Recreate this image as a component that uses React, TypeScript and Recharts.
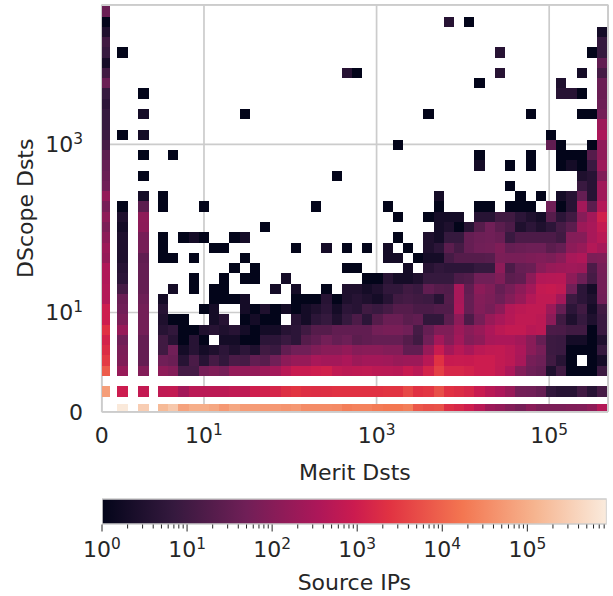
import { ScatterChart, Scatter, BarChart, Bar, XAxis, YAxis, CartesianGrid, ReferenceLine } from 'recharts'

// source IP counts per bin, one row per DScope bin (top to bottom), 47 Merit bins per row
const _ = 0
const t00 = [40,_,_, _,_,_,_,_,_,_,_,_,_, _,_,_,_,_,_,_,_,_,_, _,_,_,_,_,_,_,_,_,_, _,_,_,_,_,_,_,_,_,_,_,_,_,_]
const t01 = [1,_,_, _,_,_,_,_,_,_,_,_,_, _,_,_,_,_,_,_,_,_,_, _,_,_,_,_,_,_,_,4,_, 1,_,_,_,_,_,_,_,_,_,_,_,_,_]
const t02 = [3,_,_, _,_,_,_,_,_,_,_,_,_, _,_,_,_,_,_,_,_,_,_, _,_,_,_,_,_,_,_,_,_, _,_,_,_,_,_,_,_,_,_,_,_,_,2]
const t03 = [10,_,_, _,_,_,_,_,_,_,_,_,_, _,_,_,_,_,_,_,_,_,_, _,_,_,_,_,_,_,_,_,_, _,_,_,_,_,_,_,_,_,_,_,_,_,7]
const t04 = [7,1,_, _,_,_,_,_,_,_,_,_,_, _,_,_,_,_,_,_,_,_,_, _,_,_,_,_,_,_,_,_,_, _,_,_,4,_,_,_,_,_,_,_,_,1,7]
const t05 = [2,_,_, _,_,_,_,_,_,_,_,_,_, _,_,_,_,_,_,_,_,_,_, _,_,_,_,_,_,_,_,_,_, _,_,_,_,_,_,_,_,_,_,_,_,_,30]
const t06 = [10,_,_, _,_,_,_,_,_,_,_,_,_, _,_,_,_,_,_,_,_,4,1, _,_,_,_,_,_,_,_,_,_, _,_,_,4,_,_,_,_,_,_,_,2,_,12]
const t07 = [40,_,_, _,_,_,_,_,_,_,_,_,_, _,_,_,_,_,_,_,_,_,_, _,_,_,_,_,_,_,_,_,_, _,1,_,_,_,_,_,_,_,3,_,_,_,40]
const t08 = [7,_,1, _,_,_,_,_,_,_,_,_,_, _,_,_,_,_,_,_,_,_,_, _,_,_,_,_,_,_,_,_,_, _,_,_,_,_,_,_,_,_,4,4,1,_,40]
const t09 = [5,_,_, _,_,_,_,_,_,_,_,_,_, _,_,_,_,_,_,_,_,_,_, _,_,_,_,_,_,_,_,_,_, _,_,_,_,_,_,_,_,_,_,_,_,_,45]
const t10 = [7,_,2, _,_,_,_,_,_,_,_,1,_, _,_,_,_,_,_,_,_,_,_, _,_,_,_,_,_,1,_,_,_, _,_,_,_,_,_,1,_,_,_,_,1,1,55]
const t11 = [7,_,_, _,_,_,_,_,_,_,_,_,_, _,_,_,_,_,_,_,_,_,_, _,_,_,_,_,_,_,_,_,_, _,_,_,_,_,_,_,_,_,_,_,_,_,200]
const t12 = [8,1,2, _,_,_,_,_,_,_,_,_,_, _,_,_,_,_,_,_,_,_,_, _,_,_,_,_,_,_,_,_,_, _,_,_,_,_,_,_,_,1,_,_,_,_,340]
const t13 = [12,_,_, _,_,_,_,_,_,_,_,_,_, _,_,_,_,_,_,_,_,_,_, _,_,_,1,_,_,_,_,_,_, _,_,_,_,_,_,_,_,30,1,_,_,1,130]
const t14 = [25,_,1, _,1,_,_,_,_,_,_,_,_, _,_,_,_,_,_,_,_,_,_, _,_,_,_,_,_,_,_,_,_, _,1,_,_,_,_,1,_,_,1,1,1,20,130]
const t15 = [35,_,_, _,_,_,_,_,_,_,_,_,_, _,_,_,_,_,_,_,_,_,_, _,_,_,_,_,_,_,_,_,_, _,2,_,_,1,_,1,_,_,1,2,1,8,200]
const t16 = [40,_,1, _,_,_,_,_,_,_,_,_,_, _,_,_,_,_,_,_,1,_,_, _,_,_,_,_,_,_,_,_,_, _,_,_,_,_,_,_,_,_,_,_,3,4,80]
const t17 = [50,_,_, _,_,_,_,_,_,_,_,_,_, _,_,_,_,_,_,_,_,_,_, _,_,_,_,_,_,_,_,_,_, _,_,_,_,1,_,_,_,_,_,_,8,4,220]
const t18 = [150,_,2, 1,_,_,_,_,_,_,_,_,_, _,_,_,_,_,_,_,_,_,_, _,_,_,_,_,_,_,2,_,_, _,_,_,_,_,1,_,1,_,2,4,35,4,220]
const t19 = [60,1,25, 1,_,_,_,1,_,_,_,_,_, _,_,_,_,_,1,_,_,_,_, _,_,1,_,_,_,_,1,_,_, _,1,1,_,1,1,1,_,50,1,4,250,25,420]
const t20 = [130,3,130, _,_,_,_,_,_,_,_,_,_, _,_,_,_,_,_,_,_,_,_, _,_,_,1,_,_,1,2,2,2, _,4,4,10,10,5,3,2,20,5,10,100,250,1150]
const t21 = [70,2,120, _,_,_,_,_,_,_,_,_,_, 1,_,_,_,_,_,_,_,_,_, _,_,_,_,_,_,_,2,3,1, 4,20,50,25,15,3,5,3,5,12,25,200,300,720]
const t22 = [120,3,60, 1,_,1,2,1,_,_,1,2,_, _,_,_,_,_,_,_,_,_,_, _,_,_,1,_,_,3,2,7,7, 35,45,50,40,8,15,15,15,15,10,90,100,300,500]
const t23 = [200,3,60, 1,_,_,_,_,1,1,_,_,_, _,_,_,1,_,_,2,_,1,_, 1,_,2,_,1,_,3,5,25,12, 35,50,55,80,35,40,45,45,25,35,120,170,420,270]
const t24 = [160,3,30, 1,1,_,1,_,_,_,_,1,_, _,_,_,_,_,_,_,_,_,_, _,_,2,2,_,1,2,2,12,20, 20,20,22,70,65,65,75,85,70,110,300,380,70,80]
const t25 = [380,4,35, _,_,_,_,_,_,_,1,_,1, _,_,_,_,_,_,_,_,1,1, _,_,_,_,2,_,4,6,5,5, 5,7,7,130,15,35,40,110,170,200,230,200,15,60]
const t26 = [380,5,35, _,_,_,1,_,_,1,_,1,1, _,_,2,_,_,_,_,_,_,_, 1,1,4,2,2,3,7,7,7,15, 18,50,50,80,25,30,120,420,470,500,130,45,12,55]
const t27 = [420,12,35, _,2,_,1,_,1,1,_,_,_, _,2,_,2,_,_,1,_,3,3, 2,3,6,6,10,8,30,20,18,300, 30,120,80,35,60,120,250,720,800,650,50,5,2,55]
const t28 = [420,40,45, 2,_,_,_,_,1,1,1,2,_, _,_,_,1,1,1,4,1,3,4, 3,2,4,10,12,10,9,4,20,300, 35,90,70,45,90,170,420,650,650,250,9,5,3,50]
const t29 = [1000,50,55, 4,_,_,_,1,2,_,_,2,1, 3,1,2,1,2,3,5,2,5,4, 10,8,12,20,20,14,14,18,18,340, 35,85,60,120,420,550,650,650,200,35,5,10,2,10]
const t30 = [1000,70,55, 3,1,1,_,_,2,4,_,1,2, 1,1,_,4,2,5,7,3,7,15, 5,20,40,40,25,30,6,6,25,120, 15,60,170,300,470,650,650,550,120,10,3,7,3,8]
const t31 = [2300,170,55, 4,6,1,1,3,4,3,4,2,1, 2,2,4,5,10,20,20,30,30,30, 30,55,65,65,50,12,35,80,80,200, 110,170,340,550,720,720,500,550,15,14,10,10,1,8]
const t32 = [1300,50,35, 10,4,1,4,1,_,2,2,1,1, 5,5,8,5,20,30,55,35,45,25, 30,35,35,35,20,10,50,250,90,250, 90,130,300,340,340,250,110,35,9,8,2,2,1,3]
const t33 = [1900,70,35, 10,50,2,4,2,3,5,3,5,3, 10,8,30,50,50,80,110,110,150,100, 110,110,90,90,30,30,170,850,250,500, 300,530,650,680,530,340,110,60,9,8,1,1,1,7]
const t34 = [3100,80,35, 50,40,4,14,4,12,6,14,12,30, 22,50,120,170,170,300,250,250,340,200, 250,250,230,180,200,200,500,2300,800,850, 800,950,950,680,550,300,60,45,10,4,1,_,1,2]
const t35 = [8000,170,90, 130,90,12,12,60,80,60,150,150,150, 200,250,500,850,850,1000,1150,650,550,600, 650,550,530,500,800,530,1300,3500,1500,1500, 1250,950,950,650,340,90,45,35,3,10,1,1,1,9]
const rowOne = [60000,950,720, 650,680,250,530,530,550,550,650,600,1050, 1150,1400,2100,2500,2100,2000,2050,2300,2300,2300, 2300,2300,2500,2500,4500,2300,2700,5500,2300,1900, 1500,850,500,340,180,55,50,35,6,4,4,10,4,12]
const rowZero = [_,800000,300000, 150000,250000,70000,100000,100000,80000,50000,80000,55000,55000, 50000,50000,45000,50000,35000,35000,35000,32000,22000,25000, 25000,20000,18000,18000,22000,7000,5500,6000,2000,1500, 1000,500,200,150,90,60,110,70,70,70,80,85,130,420]

const topRows = [t00,t01,t02,t03,t04,t05,t06,t07,t08,t09,t10,t11,t12,t13,t14,t15,t16,t17,t18,t19,t20,t21,t22,t23,t24,t25,t26,t27,t28,t29,t30,t31,t32,t33,t34,t35]

const xTickExps = [null, 1, 3, 5]
const yTickExps = [null, 1, 3]
const cbarMajor = [0, 1, 2, 3, 4, 5]
const cbarMinorMult = [2, 3, 4, 5, 6, 7, 8, 9]
const VMAX = 857000

// seaborn rocket
const rocketStops: [number, string][] = [
  [0, '#03051a'], [1 / 7, '#35193e'], [2 / 7, '#701f57'], [3 / 7, '#ad1759'],
  [0.5, '#cb1b4f'], [4 / 7, '#e13342'], [5 / 7, '#f37651'], [6 / 7, '#f6b48f'], [1, '#faebdd'],
]

const hexRgb = (h: string) => [1, 3, 5].map((i) => parseInt(h.slice(i, i + 2), 16))
function rocket(v: number) {
  const t = Math.min(1, Math.log10(v) / Math.log10(VMAX))
  let i = 0
  while (i < rocketStops.length - 2 && t > rocketStops[i + 1][0]) i++
  const [t0, c0] = rocketStops[i]
  const [t1, c1] = rocketStops[i + 1]
  const f = (t - t0) / (t1 - t0)
  const a = hexRgb(c0)
  const b = hexRgb(c1)
  return `rgb(${a.map((p, k) => Math.round(p + (b[k] - p) * f)).join(',')})`
}

// axes are in decades of a symlog scale, zero sits at the origin
const PX_X = 86.3
const PX_Y = 84.1
const X_MAX = 506.2 / PX_X
const Y_MAX = 407 / PX_Y
const X_OFF = 0.184
const Y_OFF = 0.181
const symX = (v: number) => (v === 0 ? 0 : Math.log10(v) + X_OFF)
const symY = (v: number) => (v === 0 ? 0 : Math.log10(v) + Y_OFF)

const xLowBins = [[0.006, 0.095], [0.176, 0.304], [0.419, 0.547]]
const X_FIRST = 0.6512
const BIN_X = 0.1183
const BIN_Y = 0.1221
const yLowBins = [[0.0095, 0.0927], [0.176, 0.307]]
const Y_FIRST = 0.4257

function xBin(c: number) {
  if (c < 3) return xLowBins[c]
  return [X_FIRST + (c - 3) * BIN_X, X_FIRST + (c - 2) * BIN_X]
}

const allRows = [...topRows, rowOne, rowZero]
const nTop = topRows.length

interface Cell { x: number; y: number; w: number; h: number; v: number }

const cells: Cell[] = []
allRows.forEach((row, r) => {
  const yb = r === nTop + 1 ? yLowBins[0] : r === nTop ? yLowBins[1]
    : [Y_FIRST + (nTop - 1 - r) * BIN_Y, Y_FIRST + (nTop - r) * BIN_Y]
  row.forEach((v, c) => {
    if (!v) return
    const xb = xBin(c)
    cells.push({
      x: (xb[0] + xb[1]) / 2,
      y: (yb[0] + yb[1]) / 2,
      w: (xb[1] - xb[0]) * PX_X,
      h: (yb[1] - yb[0]) * PX_Y,
      v,
    })
  })
})

const FONT = '"DejaVu Sans"'
const INK = '#262626'
const SPINE = '#cccccc'
const FS = 22

function CellShape({ cx, cy, payload }: any) {
  const left = Math.round(cx - payload.w / 2)
  const right = Math.round(cx + payload.w / 2)
  const top = Math.round(cy - payload.h / 2)
  const bottom = Math.round(cy + payload.h / 2)
  return (
    <rect x={left} y={top} width={right - left} height={bottom - top} fill={rocket(payload.v)} shapeRendering="crispEdges" />
  )
}

function PowerText({ x, y, exp, anchor }: { x: number; y: number; exp: number | null; anchor: 'middle' | 'end' }) {
  return (
    <text x={x} y={y} textAnchor={anchor} fontFamily={FONT} fontSize={FS} fill={INK}>
      {exp === null ? '0' : '10'}
      {exp !== null && (
        <tspan dy={-8} fontSize={15.4}>
          {exp}
        </tspan>
      )}
    </text>
  )
}

function XTick({ x, payload, index }: any) {
  return <PowerText x={x} y={443.3} exp={xTickExps[index ?? payload.index]} anchor="middle" />
}

function YTick({ y, payload, index }: any) {
  return <PowerText x={83} y={y + 8} exp={yTickExps[index ?? payload.index]} anchor="end" />
}

const cbarTicks: number[] = []
cbarMajor.forEach((e) => {
  cbarTicks.push(10 ** e)
  cbarMinorMult.forEach((m) => {
    if (m * 10 ** e <= VMAX) cbarTicks.push(m * 10 ** e)
  })
})

function CbarTick({ x, payload }: any) {
  const exp = Math.log10(payload.value)
  const major = Math.abs(exp - Math.round(exp)) < 1e-9
  return (
    <g>
      <line x1={x} x2={x} y1={54.5} y2={major ? 61.5 : 58.5} stroke={INK} strokeWidth={1} />
      {major && <PowerText x={x} y={86.7} exp={Math.round(exp)} anchor="middle" />}
    </g>
  )
}

const cbarData = [{ name: 'Source IPs', range: [1, VMAX] }]

export default function App() {
  return (
    <div style={{ position: 'absolute', left: 0, top: 0, width: 613, height: 596, background: '#fff', fontFamily: FONT }}>
      <ScatterChart width={613} height={490} margin={{ top: 4.8, right: 5, left: 0, bottom: 0 }}>
        <CartesianGrid stroke={SPINE} strokeWidth={1.7} />
        <XAxis
          type="number"
          dataKey="x"
          domain={[0, X_MAX]}
          ticks={[0, 10, 1000, 100000].map(symX)}
          interval={0}
          height={78.2}
          axisLine={false}
          tickLine={false}
          tick={<XTick />}
          allowDataOverflow
          label={{ value: 'Merit Dsts', position: 'insideBottom', offset: 10, fontSize: FS, fill: INK, fontFamily: FONT }}
        />
        <YAxis
          type="number"
          dataKey="y"
          domain={[0, Y_MAX]}
          ticks={[0, 10, 1000].map(symY)}
          interval={0}
          width={101.8}
          axisLine={false}
          tickLine={false}
          tick={<YTick />}
          allowDataOverflow
          label={{ value: 'DScope Dsts', angle: -90, position: 'insideLeft', offset: 25, fontSize: FS, fill: INK, fontFamily: FONT, style: { textAnchor: 'middle' } }}
        />
        <Scatter data={cells} shape={<CellShape />} isAnimationActive={false} />
        <ReferenceLine x={0} stroke={SPINE} strokeWidth={1.7} ifOverflow="visible" />
        <ReferenceLine x={X_MAX} stroke={SPINE} strokeWidth={1.7} ifOverflow="visible" />
        <ReferenceLine y={0} stroke={SPINE} strokeWidth={1.7} ifOverflow="visible" />
        <ReferenceLine y={Y_MAX} stroke={SPINE} strokeWidth={1.7} ifOverflow="visible" />
      </ScatterChart>
      <div style={{ position: 'absolute', left: 0, top: 470 }}>
        <BarChart
          layout="vertical"
          width={613}
          height={126}
          data={cbarData}
          barCategoryGap={0}
          margin={{ top: 29, right: 6.3, left: 102, bottom: 0 }}
        >
          <defs>
            <linearGradient id="rocketGrad" x1="0" y1="0" x2="1" y2="0">
              {rocketStops.map(([t, c]) => (
                <stop key={t} offset={t} stopColor={c} />
              ))}
            </linearGradient>
          </defs>
          <XAxis
            type="number"
            scale="log"
            domain={[1, VMAX]}
            ticks={cbarTicks}
            interval={0}
            height={72.5}
            axisLine={false}
            tickLine={false}
            tick={<CbarTick />}
            allowDataOverflow
            label={{ value: 'Source IPs', position: 'insideBottom', offset: 6, fontSize: FS, fill: INK, fontFamily: FONT }}
          />
          <YAxis type="category" dataKey="name" hide />
          <Bar dataKey="range" fill="url(#rocketGrad)" stroke={SPINE} strokeWidth={1.7} isAnimationActive={false} />
        </BarChart>
      </div>
    </div>
  )
}
